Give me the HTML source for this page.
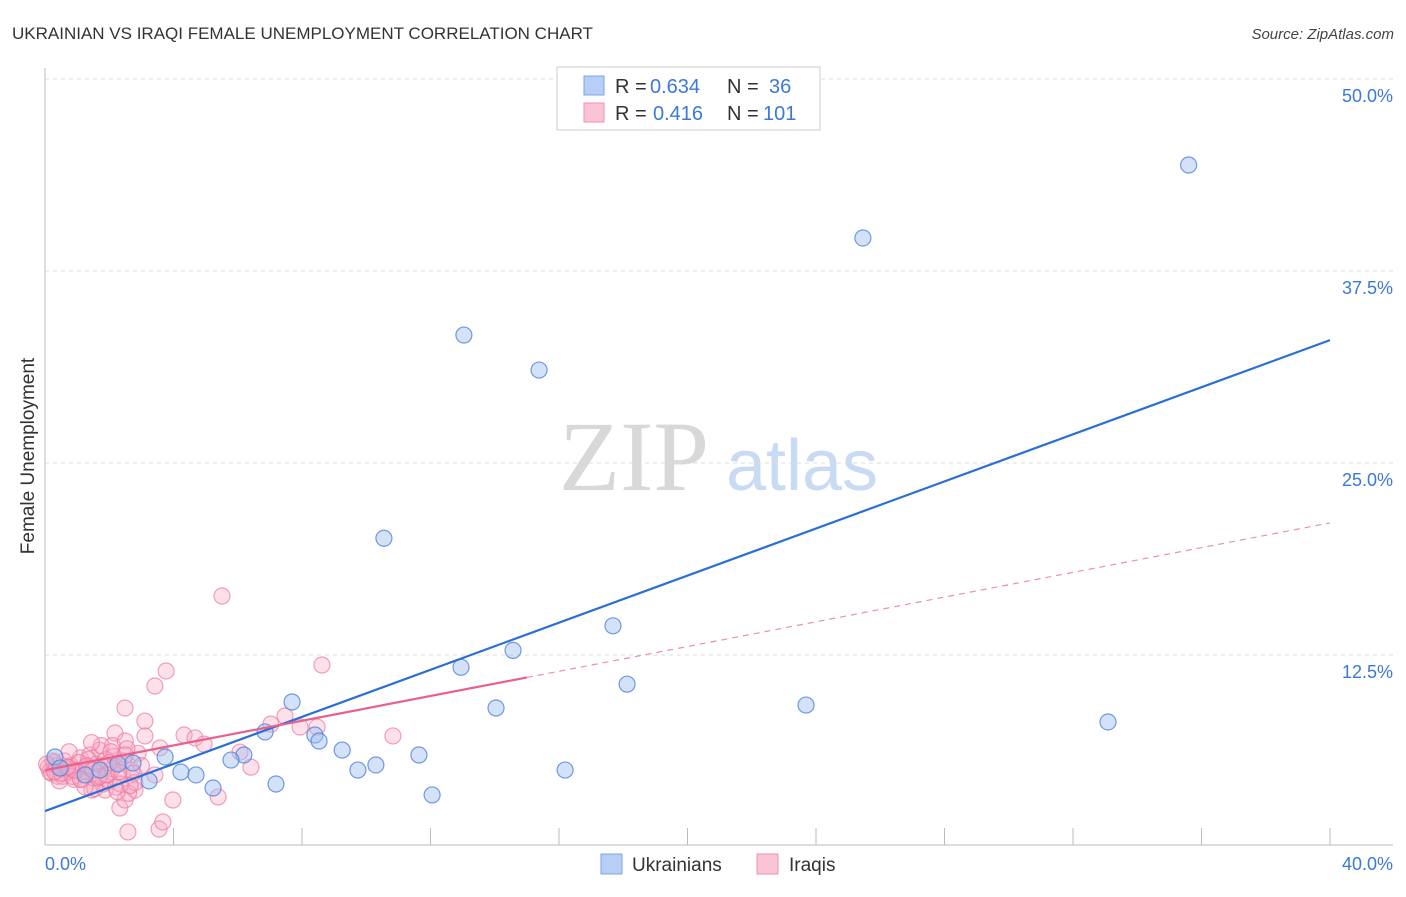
<!DOCTYPE html>
<html><head><meta charset="utf-8"><style>
body{margin:0;background:#fff;font-family:"Liberation Sans",sans-serif;}
</style></head><body>
<svg id="c" width="1406" height="892" xmlns="http://www.w3.org/2000/svg">
<text x="12" y="39" font-size="17" fill="#333">UKRAINIAN VS IRAQI FEMALE UNEMPLOYMENT CORRELATION CHART</text>
<text x="1394" y="39" font-size="15" fill="#444" font-style="italic" text-anchor="end">Source: ZipAtlas.com</text>
<text x="634" y="490" font-size="100" fill="#d8d8d8" font-family="Liberation Serif,serif" text-anchor="middle">ZIP</text>
<text x="802" y="490" font-size="72" fill="#c9daf3" text-anchor="middle">atlas</text>
<text transform="translate(34,456) rotate(-90)" font-size="19" fill="#333" text-anchor="middle">Female Unemployment</text>
<g id="grid"></g><g id="marks"></g>
<rect x="557" y="67" width="263" height="63" fill="#fff" stroke="#ccc"/>
<rect x="584" y="76" width="20" height="19" fill="#b8cff5" stroke="#7aa6e8"/>
<rect x="584" y="103" width="20" height="19" fill="#fbc4d4" stroke="#f090b0"/>
<g font-size="20">
<text x="615" y="93" fill="#333">R =</text><text x="650" y="93" fill="#3b78d8">0.634</text>
<text x="727" y="93" fill="#333">N =</text><text x="769" y="93" fill="#3b78d8">36</text></g>
<g font-size="20">
<text x="615" y="120" fill="#333">R =</text><text x="653" y="120" fill="#3b78d8">0.416</text>
<text x="727" y="120" fill="#333">N =</text><text x="763" y="120" fill="#3b78d8">101</text></g>
<rect x="601" y="854" width="21" height="20" fill="#b8cff5" stroke="#7aa6e8"/>
<text x="632" y="871" font-size="19" fill="#333">Ukrainians</text>
<rect x="757" y="854" width="21" height="20" fill="#fbc4d4" stroke="#f090b0"/>
<text x="789" y="871" font-size="19" fill="#333">Iraqis</text>
<text x="45" y="870" font-size="18" fill="#3b78d8">0.0%</text>
<text x="1393" y="870" font-size="18" fill="#3b78d8" text-anchor="end">40.0%</text>
</svg>
<script>
const yTicks=[12.5,25,37.5,50];
const yTickLabels=["12.5%","25.0%","37.5%","50.0%"];
const xTicks=[0,4,8,12,16,20,24,28,32,36,40];
const blueX=[35.6,25.46,13.04,15.38,10.55,17.68,14.57,12.95,18.12,7.69,14.04,23.69,33.09,6.85,8.4,8.53,9.25,11.64,6.19,5.79,3.74,10.3,9.74,16.19,4.23,4.7,3.24,7.19,5.23,12.05,2.27,2.74,0.31,0.47,1.71,1.25];
const blueY=[44.4,39.65,33.33,31.05,20.1,14.4,12.8,11.7,10.6,9.44,9.05,9.24,8.14,7.49,7.29,6.9,6.31,5.99,5.99,5.66,5.86,5.34,5.01,5.01,4.88,4.69,4.3,4.1,3.84,3.39,5.4,5.47,5.86,5.14,5.01,4.69];
const pinkX=[5.51,3.77,3.42,8.62,2.49,3.11,2.18,10.83,7.03,7.47,4.33,4.67,4.95,6.07,6.41,3.98,5.39,2.58,3.55,3.67,2.33,8.47,7.94,3.58,3.42,3.11,1.46,1.87,2.49,2.8,
0.1,0.2,0.3,0.4,0.5,0.6,0.7,0.8,0.9,1.0,1.1,1.2,1.3,1.4,1.5,1.6,1.7,1.8,1.9,2.0,2.1,2.2,2.3,2.4,2.5,2.6,2.7,2.8,2.9,3.0,
0.15,0.35,0.55,0.75,0.95,1.15,1.35,1.55,1.75,1.95,2.15,2.35,2.55,2.75,0.25,0.45,0.65,0.85,1.05,1.25,1.45,1.65,1.85,2.05,2.25,2.45,2.65,0.05,0.5,0.9,1.3,1.7,2.1,2.5,0.3,0.7,1.1,1.5,1.9,2.3,2.0];
const pinkY=[16.34,11.46,10.48,11.85,9.05,8.2,7.42,7.23,8.0,8.53,7.29,7.1,6.7,6.18,5.2,3.06,3.26,0.98,1.17,1.63,2.54,7.81,7.81,6.45,4.69,7.23,3.71,3.71,3.06,3.71,
5.2,4.8,5.5,4.6,5.1,5.6,4.9,5.3,4.4,5.0,5.8,4.7,5.2,6.0,4.5,5.4,6.3,4.1,5.7,4.3,6.6,3.9,5.5,4.8,6.9,3.5,5.0,4.2,6.1,5.3,
4.9,5.3,4.6,6.2,5.0,4.4,5.7,3.8,6.6,4.7,5.9,4.1,6.4,4.8,5.6,4.3,5.1,4.6,5.5,3.9,6.8,4.5,5.2,6.2,3.6,5.6,4.0,5.4,4.8,5.0,5.3,4.6,5.1,6.0,4.9,5.2,4.4,5.0,4.7,4.9,5.5];
const blueLine=[2.34,33.0];
const pinkLine=[5.0,21.1];
const pinkSolidEnd=15;
const X=v=>45+v*1285/40, Y=v=>847-v*192/12.5;
const NS="http://www.w3.org/2000/svg";
function mk(parent,tag,at){const e=document.createElementNS(NS,tag);for(const k in at)e.setAttribute(k,at[k]);parent.appendChild(e);return e;}
const grid=document.getElementById('grid'),marks=document.getElementById('marks');
yTicks.forEach((t,i)=>{
 const l=mk(grid,'line',{x1:45,x2:1393,y1:Y(t),y2:Y(t),stroke:'#ddd','stroke-dasharray':'4,4'});
 
 
 const tx=mk(grid,'text',{x:1393,y:Y(t)+23,'font-size':18,fill:'#3b78d8','text-anchor':'end'});tx.textContent=yTickLabels[i];
 
 
});
const ax=mk(grid,'line',{x1:45,x2:1393,y1:845,y2:845,stroke:'#bbb'});


const ay=mk(grid,'line',{x1:45,x2:45,y1:68,y2:845,stroke:'#bbb'});


xTicks.forEach(t=>{const l=mk(grid,'line',{x1:X(t),x2:X(t),y1:828,y2:845,stroke:'#bbb'});
 
 });
pinkX.forEach((x,i)=>{const c=mk(marks,'circle',{cx:X(x),cy:Y(pinkY[i]),r:8,fill:'rgba(248,170,195,0.35)',stroke:'rgba(236,120,160,0.7)','stroke-width':1.2});
 
 });
blueX.forEach((x,i)=>{const c=mk(marks,'circle',{cx:X(x),cy:Y(blueY[i]),r:8,fill:'rgba(160,190,240,0.45)',stroke:'rgba(80,130,220,0.8)','stroke-width':1.2});
 
 });
const bl=mk(marks,'line',{x1:X(0),y1:Y(blueLine[0]),x2:X(40),y2:Y(blueLine[1]),stroke:'#2a6fd6','stroke-width':2.2});


const pe=pinkLine[0]+(pinkLine[1]-pinkLine[0])*pinkSolidEnd/40;
const pl=mk(marks,'line',{x1:X(0),y1:Y(pinkLine[0]),x2:X(pinkSolidEnd),y2:Y(pe),stroke:'#e8608e','stroke-width':2.2});


const pd=mk(marks,'line',{x1:X(pinkSolidEnd),y1:Y(pe),x2:X(40),y2:Y(pinkLine[1]),stroke:'#eb8fae','stroke-width':1.2,'stroke-dasharray':'6,5'});


</script>
</body></html>
